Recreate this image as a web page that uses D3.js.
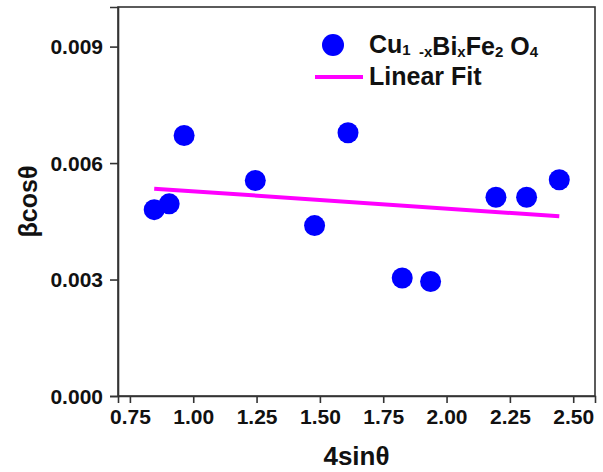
<!DOCTYPE html>
<html>
<head>
<meta charset="utf-8">
<script src="https://cdn.jsdelivr.net/npm/d3@7"></script>
<style>
  body { margin: 0; background: #fff; }
  svg { display: block; font-family: "Liberation Sans", Arial, sans-serif; font-weight: bold; }
</style>
</head>
<body>
<svg></svg>
<script>
var width = 603;
var height = 472;

// 4sinθ values and βcosθ values
var xValues = [0.846, 0.905, 0.964, 1.245, 1.479, 1.611, 1.825, 1.937, 2.195, 2.316, 2.445];
var yValues = [0.00480, 0.00495, 0.00671, 0.00555, 0.00439, 0.00678, 0.00304, 0.00295, 0.00512, 0.00512, 0.00557];

// linear fit end points
var fitX = [0.846, 2.445];
var fitY = [0.00534, 0.00463];

var xTicks = [0.75, 1.00, 1.25, 1.50, 1.75, 2.00, 2.25, 2.50];
var yTicks = [0.000, 0.003, 0.006, 0.009];

var margin = {top: 7, right: 8, bottom: 76, left: 118};

var x = d3.scaleLinear()
	.domain([0.703, 2.586])
	.range([margin.left, width - margin.right]);

var y = d3.scaleLinear()
	.domain([0, 0.01002])
	.range([height - margin.bottom, margin.top]);

var svg = d3.select('svg')
	.attr('width', width)
	.attr('height', height);

// frame
svg.append('rect')
	.attr('x', margin.left)
	.attr('y', margin.top)
	.attr('width', width - margin.right - margin.left)
	.attr('height', height - margin.bottom - margin.top)
	.attr('fill', 'none')
	.attr('stroke', '#333')
	.attr('stroke-width', 1.6);

var xAxis = svg.append('g')
	.attr('transform', 'translate(0,' + (height - margin.bottom) + ')')
	.call(d3.axisBottom(x).tickValues(xTicks).tickFormat(d3.format('.2f')).tickSize(7).tickPadding(6));

var yAxis = svg.append('g')
	.attr('transform', 'translate(' + margin.left + ',0)')
	.call(d3.axisLeft(y).tickValues(yTicks).tickFormat(d3.format('.3f')).tickSize(8).tickPadding(7));

[xAxis, yAxis].forEach(function(g) {
	g.select('.domain').attr('stroke', '#333').attr('stroke-width', 1.6);
	g.selectAll('.tick line').attr('stroke', '#333').attr('stroke-width', 1.6);
	g.selectAll('.tick text')
		.attr('fill', '#111')
		.attr('font-size', '21px')
		.attr('font-weight', 'bold')
		.attr('font-family', '"Liberation Sans", Arial, sans-serif');
});
yAxis.selectAll('.tick text').attr('dy', '0.35em');

// fit line
svg.append('line')
	.attr('x1', x(fitX[0]))
	.attr('y1', y(fitY[0]))
	.attr('x2', x(fitX[1]))
	.attr('y2', y(fitY[1]))
	.attr('stroke', '#ff00ff')
	.attr('stroke-width', 4);

// points
svg.append('g')
	.selectAll('circle')
	.data(xValues)
	.enter()
	.append('circle')
		.attr('cx', d => x(d))
		.attr('cy', (d, i) => y(yValues[i]))
		.attr('r', 10.5)
		.attr('fill', '#0000ff');

// axis titles
svg.append('text')
	.attr('x', (margin.left + width - margin.right) / 2)
	.attr('y', 465)
	.attr('text-anchor', 'middle')
	.attr('font-size', '26px')
	.attr('fill', '#111')
	.text('4sinθ');

svg.append('text')
	.attr('transform', 'translate(37,' + ((margin.top + height - margin.bottom) / 2) + ') rotate(-90)')
	.attr('text-anchor', 'middle')
	.attr('font-size', '25px')
	.attr('fill', '#111')
	.text('βcosθ');

// legend
var legend = svg.append('g');

legend.append('circle')
	.attr('cx', 333)
	.attr('cy', 45)
	.attr('r', 11)
	.attr('fill', '#0000ff');

var label = legend.append('text')
	.attr('x', 369)
	.attr('y', 53)
	.attr('font-size', '25px')
	.attr('fill', '#111');

var parts = [
	['Cu', false], ['1  ', true], ['-x', true], ['Bi', false], ['x', true],
	['Fe', false], ['2', true], [' O', false], ['4', true]
];
parts.forEach(function(p) {
	label.append('tspan')
		.attr('font-size', p[1] ? '15px' : '25px')
		.attr('dy', p[1] ? 2 : -2)
		.attr('xml:space', 'preserve')
		.text(p[0]);
});
label.selectAll('tspan').filter((d, i) => i === 0).attr('dy', 0);

legend.append('line')
	.attr('x1', 315)
	.attr('x2', 363)
	.attr('y1', 77)
	.attr('y2', 77)
	.attr('stroke', '#ff00ff')
	.attr('stroke-width', 4);

legend.append('text')
	.attr('x', 369)
	.attr('y', 85)
	.attr('font-size', '25px')
	.attr('fill', '#111')
	.text('Linear Fit');
</script>
</body>
</html>
